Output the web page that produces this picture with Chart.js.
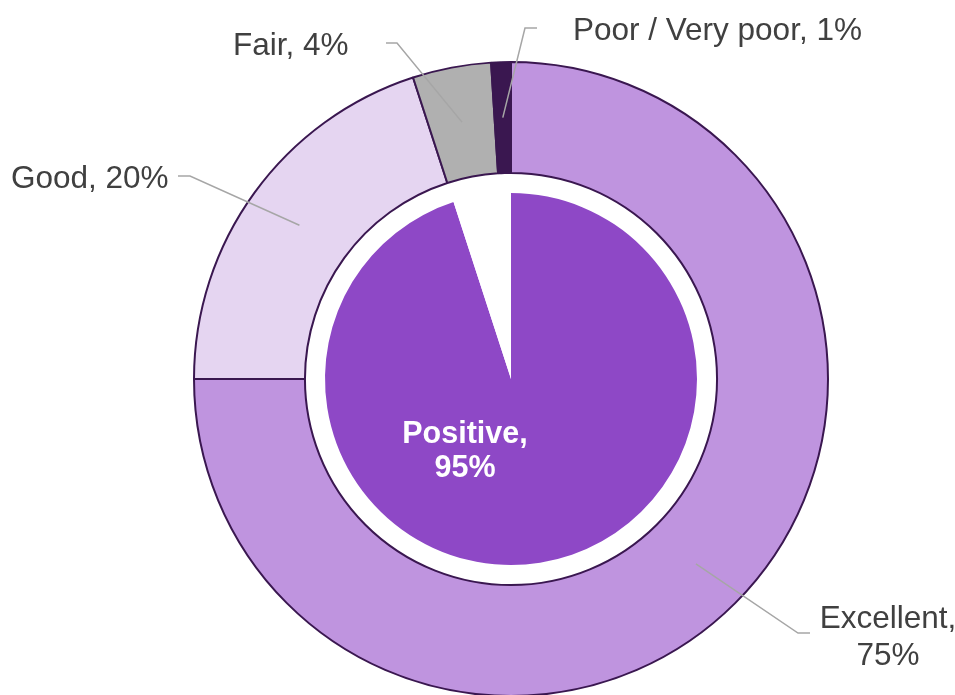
<!DOCTYPE html>
<html>
<head>
<meta charset="utf-8">
<script src="https://cdn.jsdelivr.net/npm/chart.js@4/dist/chart.umd.min.js"></script>
<style>
  html, body { margin: 0; padding: 0; background: #fff; }
  #wrap { position: relative; width: 955px; height: 695px; overflow: hidden; }
  #wrap canvas { position: absolute; left: 0; top: 0; }
</style>
</head>
<body>
<div id="wrap">
  <canvas id="outer" width="955" height="695"></canvas>
  <canvas id="inner" width="955" height="695"></canvas>
</div>
<script>
// outer ring: rating breakdown
const ratingLabels = ['Excellent', 'Good', 'Fair', 'Poor / Very poor'];
const ratingValues = [75, 20, 4, 1];
const ratingColors = ['#BF94DF', '#E5D5F1', '#B0B0B0', '#3A1750'];

// inner pie: positive share
const summaryLabels = ['Positive', 'Other'];
const summaryValues = [95, 5];
const summaryColors = ['#8E48C6', '#FFFFFF'];

const FONT = '"Liberation Sans", Arial, sans-serif';
const TEXT = '#404040';
const LEADER = '#A6A6A6';
const PAD = { left: 67, top: 63, right: 0, bottom: 0 };

// label placement for the outer ring (leader elbow, end, text anchor)
const labelLayout = [
  { elbow: [798, 633], end: [810, 633], text: [888, 628], align: 'center', lines: ['Excellent,', '75%'] },
  { elbow: [190, 176], end: [178, 176], text: [11, 188], align: 'left', lines: ['Good, 20%'] },
  { elbow: [397, 43], end: [386, 43], text: [233, 55], align: 'left', lines: ['Fair, 4%'] },
  { elbow: [525, 28], end: [537, 28], text: [573, 40], align: 'left', lines: ['Poor / Very poor, 1%'] },
];

const outerLabels = {
  id: 'outerLabels',
  afterDraw(chart) {
    const ctx = chart.ctx;
    const arcs = chart.getDatasetMeta(0).data;
    ctx.save();
    arcs.forEach((arc, i) => {
      const p = arc.tooltipPosition(true);
      const l = labelLayout[i];
      ctx.strokeStyle = LEADER;
      ctx.lineWidth = 1.5;
      ctx.beginPath();
      ctx.moveTo(p.x, p.y);
      ctx.lineTo(l.elbow[0], l.elbow[1]);
      ctx.lineTo(l.end[0], l.end[1]);
      ctx.stroke();
      ctx.fillStyle = TEXT;
      ctx.font = '31.5px ' + FONT;
      ctx.textAlign = l.align;
      ctx.textBaseline = 'alphabetic';
      l.lines.forEach((t, j) => ctx.fillText(t, l.text[0], l.text[1] + j * 37));
    });
    ctx.restore();
  }
};

const innerLabel = {
  id: 'innerLabel',
  afterDraw(chart) {
    const ctx = chart.ctx;
    const arc = chart.getDatasetMeta(0).data[0];
    ctx.save();
    ctx.fillStyle = '#FFFFFF';
    ctx.font = 'bold 30.5px ' + FONT;
    ctx.textAlign = 'center';
    ctx.fillText(summaryLabels[0] + ',', arc.x - 46, arc.y + 64);
    ctx.fillText(summaryValues[0] + '%', arc.x - 46, arc.y + 98);
    ctx.restore();
  }
};

const common = {
  responsive: false,
  animation: false,
  events: [],
  layout: { padding: PAD },
  plugins: { legend: { display: false }, tooltip: { enabled: false } },
};

new Chart(document.getElementById('outer').getContext('2d'), {
  type: 'doughnut',
  data: {
    labels: ratingLabels,
    datasets: [{
      data: ratingValues,
      backgroundColor: ratingColors,
      borderColor: '#3A1750',
      borderWidth: 2,
    }],
  },
  options: Object.assign({}, common, { radius: 317, cutout: '65%' }),
  plugins: [outerLabels],
});

new Chart(document.getElementById('inner').getContext('2d'), {
  type: 'pie',
  data: {
    labels: summaryLabels,
    datasets: [{
      data: summaryValues,
      backgroundColor: summaryColors,
      borderWidth: 0,
    }],
  },
  options: Object.assign({}, common, { radius: 186 }),
  plugins: [innerLabel],
});
</script>
</body>
</html>
